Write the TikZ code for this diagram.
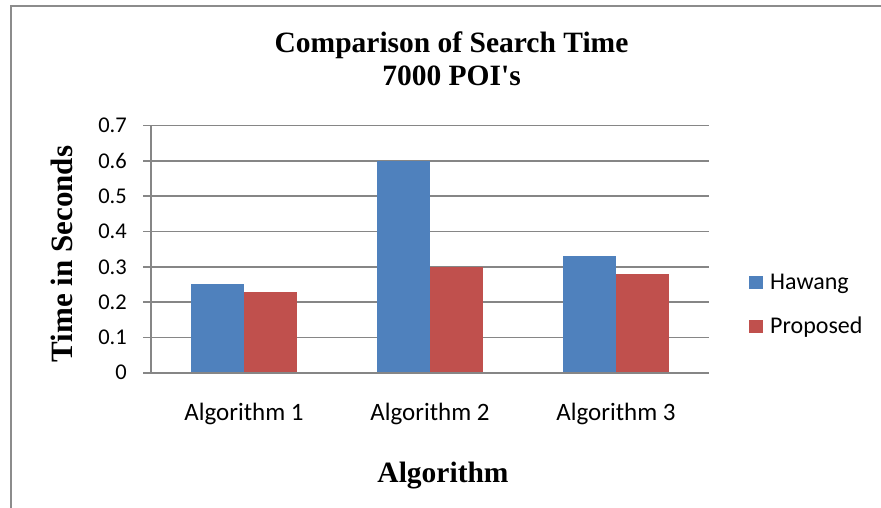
\documentclass[tikz,border=0pt]{standalone}
\usepackage{fontspec}
\setmainfont{Liberation Serif}
\newfontfamily\calfont{Carlito}
\definecolor{hawang}{HTML}{4F81BD}
\definecolor{proposed}{HTML}{C0504D}
\definecolor{gridgray}{HTML}{868686}
\definecolor{framegray}{HTML}{8C8C8C}
\begin{document}
\begin{tikzpicture}[x=1pt,y=-1pt,
  grid/.style={draw=gridgray,line width=1.6pt},
  barH/.style={fill=hawang},
  barP/.style={fill=proposed},
  ticklbl/.style={anchor=east,inner sep=0pt,font=\calfont\fontsize{22.5}{24}\selectfont},
  catlbl/.style={anchor=base,inner sep=0pt,font=\calfont\fontsize{25}{26}\selectfont},
  leglbl/.style={anchor=base west,inner sep=0pt,font=\calfont\fontsize{24}{26}\selectfont},
  titlefont/.style={inner sep=0pt,font=\bfseries\fontsize{29.5}{33}\selectfont}]
\useasboundingbox (0,0) rectangle (881,508);
\fill[white] (0,0) rectangle (881,508);
% outer chart frame
\coordinate (fbl) at (11,508);
\coordinate (ftl) at (11,6);
\coordinate (ftr) at (881,6);
\draw[framegray,line width=2pt] (fbl) -- (ftl) -- (ftr);
% horizontal gridlines with tick labels
\foreach \v/\lab in {1/0.1,2/0.2,3/0.3,4/0.4,5/0.5,6/0.6,7/0.7}{
  \coordinate (gl\v) at (143,372.7-35.3*\v);
  \coordinate (gr\v) at (709,372.7-35.3*\v);
  \draw[grid] (gl\v) -- (gr\v);
  \node[ticklbl] (t\v) at (127,372.7-35.3*\v) {\lab};
}
\node[ticklbl] (t0) at (127,372.7) {0};
% bars: Hawang and Proposed per algorithm
\foreach \c/\h/\p in {244/0.25/0.23,430/0.6/0.3,616/0.33/0.28}{
  \fill[barH] (\c-53,372.7) rectangle (\c,372.7-353*\h);
  \fill[barP] (\c,372.7) rectangle (\c+53,372.7-353*\p);
}
% axes
\coordinate (ax0) at (143,372.7);
\coordinate (ax1) at (709,372.7);
\coordinate (ay0) at (151,372.7);
\coordinate (ay1) at (151,125.5);
\draw[grid] (ay0) -- (ay1);
\draw[grid] (ax0) -- (ax1);
% category labels
\node[catlbl] (c1) at (244,420) {Algorithm 1};
\node[catlbl] (c2) at (430,420) {Algorithm 2};
\node[catlbl] (c3) at (616,420) {Algorithm 3};
% legend
\fill[hawang] (749.3,276) rectangle (762.7,289);
\fill[proposed] (749.3,320) rectangle (762.7,333);
\node[leglbl] (lgh) at (770,289) {Hawang};
\node[leglbl] (lgp) at (770,333) {Proposed};
% titles
\node[titlefont,anchor=base] (title1) at (451.5,52.5) {Comparison of Search Time};
\node[titlefont,anchor=base] (title2) at (451.5,85.5) {7000 POI\textquotesingle s};
\node[titlefont,anchor=base,rotate=90,font=\bfseries\fontsize{31}{33}\selectfont] (ytitle) at (72,254) {Time in Seconds};
\node[titlefont,anchor=base] (xtitle) at (443,482.7) {Algorithm};
\end{tikzpicture}
\end{document}
